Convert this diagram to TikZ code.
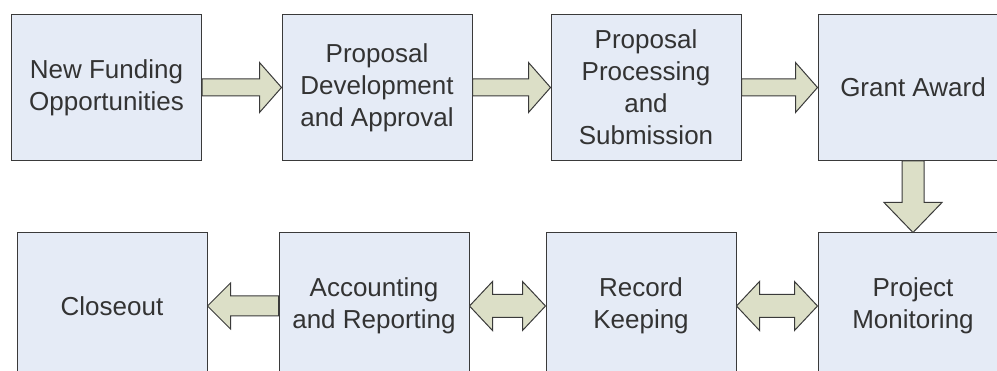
\documentclass[tikz,border=0pt]{standalone}
\usepackage{fontspec}
\setmainfont{Liberation Sans}
\usetikzlibrary{calc}

\definecolor{boxfill}{HTML}{E5EBF6}
\definecolor{arrowfill}{HTML}{DCDFC7}
\definecolor{edge}{HTML}{3A3A3A}

\tikzset{
  stage/.style={draw=edge, fill=boxfill, line width=1pt, minimum width=190pt,
    minimum height=146pt, inner sep=0pt, align=center,
    font=\fontsize{26}{32}\selectfont, text=black!80},
  block/.style={draw=edge, fill=arrowfill, line width=1pt, line join=miter},
}

\begin{document}
\begin{tikzpicture}[x=1pt, y=-1pt]

\clip (0,0) rectangle (997,371);

\foreach \m/\x/\l in {fund/106.5/{New Funding\\Opportunities},
    develop/377/{Proposal\\Development\\and Approval},
    process/646/{Proposal\\Processing\\and\\Submission},
    award/913/{Grant Award}}
  \node [stage] (\m) at (\x,87.5) {\l};

\foreach \m/\x/\l in {close/112/{Closeout},
    account/374/{Accounting\\and Reporting},
    record/641/{Record\\Keeping},
    monitor/913/{Project\\Monitoring}}
  \node [stage] (\m) at (\x,306) {\l};

% forward arrows, top row
\foreach \a/\b in {fund/develop, develop/process, process/award}
  \draw [block] ($(\a.east)+(0,-8.5)$) -- ($(\b.west)+(-22,-8.5)$)
    -- ++(0,-16.5) -- (\b.west) -- ++(-22,25) -- ++(0,-16.5)
    -- ($(\a.east)+(0,8.5)$) -- cycle;

% down to monitoring
\draw [block] ($(award.south)+(-11,0)$) -- ($(monitor.north)+(-11,-30)$)
  -- ++(-18,0) -- (monitor.north) -- ++(29,-30) -- ++(-18,0)
  -- ($(award.south)+(11,0)$) -- cycle;

% two-way arrows, bottom row
\foreach \a/\b in {account/record, record/monitor}
  \draw [block] (\a.east) -- ++(23,-24.5) -- ++(0,13)
    -- ($(\b.west)+(-23,-11.5)$) -- ++(0,-13) -- (\b.west)
    -- ++(-23,24.5) -- ++(0,-13) -- ($(\a.east)+(23,11.5)$)
    -- ++(0,13) -- cycle;

% back to closeout
\draw [block] ($(account.west)+(0,-10)$) -- ($(close.east)+(23,-10)$)
  -- ++(0,-13) -- (close.east) -- ++(23,23) -- ++(0,-13)
  -- ($(account.west)+(0,10)$) -- cycle;

\end{tikzpicture}
\end{document}
